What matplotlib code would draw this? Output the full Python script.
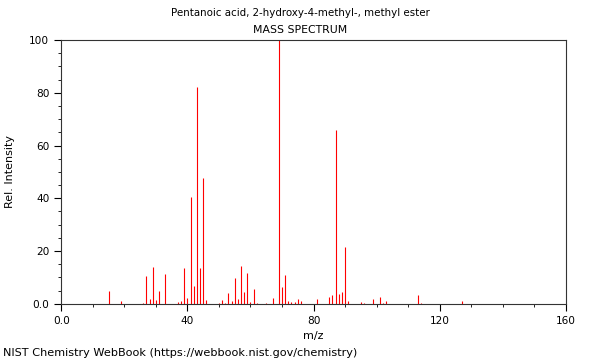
import matplotlib
matplotlib.use("Agg")
import matplotlib.pyplot as plt
from matplotlib.ticker import MultipleLocator, FuncFormatter

# ==== data (m/z, relative intensity) ====
mz = [15, 19, 26, 27, 28, 29, 30, 31, 33, 37, 38, 39, 40, 41, 42, 43, 44, 45, 46,
      50, 51, 52, 53, 54, 55, 56, 57, 58, 59, 60, 61, 62, 65, 67, 69, 70, 71, 72,
      73, 74, 75, 76, 81, 85, 86, 87, 88, 89, 90, 91, 95, 96, 99, 101, 102, 103,
      113, 114, 127]
intensity = [4.7, 1.0, 0.5, 10.6, 1.8, 13.9, 1.5, 4.9, 11.4, 0.8, 1.0, 13.4, 2.4,
             40.3, 6.6, 82.3, 13.4, 47.8, 1.3, 0.5, 1.3, 0.4, 4.1, 0.9, 9.7, 1.8,
             14.4, 4.5, 11.5, 0.8, 5.6, 0.4, 0.4, 2.3, 100.0, 6.4, 11.0, 0.9, 0.7,
             0.6, 1.8, 1.2, 2.0, 2.6, 3.4, 65.9, 3.8, 4.4, 21.5, 0.9, 0.6, 0.4, 1.7,
             2.5, 0.5, 1.2, 3.4, 0.5, 1.1]

TITLE = "Pentanoic acid, 2-hydroxy-4-methyl-, methyl ester"
FOOTER = "NIST Chemistry WebBook (https://webbook.nist.gov/chemistry)"


def fmt(v, pos):
    return "0.0" if v == 0 else f"{v:.0f}"


fig = plt.figure(figsize=(6, 3.6), dpi=100)
ax = fig.add_axes([0.102, 0.156, 0.841, 0.733])

ax.vlines(mz, 0, intensity, colors="red", linewidth=0.8)

ax.set_xlim(0, 160)
ax.set_ylim(0, 100)
ax.xaxis.set_major_locator(MultipleLocator(40))
ax.xaxis.set_minor_locator(MultipleLocator(10))
ax.yaxis.set_major_locator(MultipleLocator(20))
ax.yaxis.set_minor_locator(MultipleLocator(5))
ax.xaxis.set_major_formatter(FuncFormatter(fmt))
ax.yaxis.set_major_formatter(FuncFormatter(fmt))
ax.tick_params(which="major", labelsize=7.6, length=5, width=0.8)
ax.tick_params(which="minor", length=2.5, width=0.6)
for s in ax.spines.values():
    s.set_color("#333333")

ax.set_xlabel("m/z", fontsize=8)
ax.set_ylabel("Rel. Intensity", fontsize=8)
ax.yaxis.set_label_coords(-0.092, 0.5)

fig.text(0.5, 0.965, TITLE, ha="center", va="center", fontsize=7.4)
fig.text(0.5, 0.917, "MASS SPECTRUM", ha="center", va="center", fontsize=7.8)
fig.text(0.005, 0.02, FOOTER, ha="left", va="center", fontsize=8.1)

fig.savefig("out.png", dpi=100)
